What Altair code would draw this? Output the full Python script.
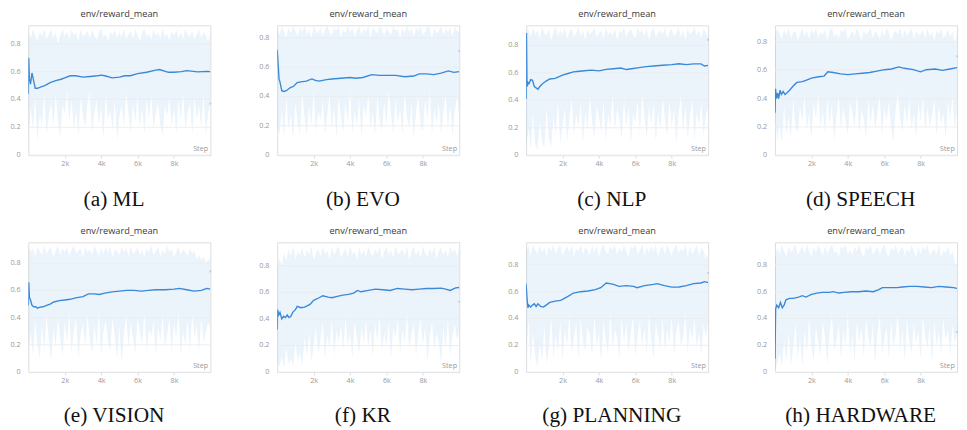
import altair as alt
import pandas as pd

# ---------------- data ----------------
captions = ["(a) ML", "(b) EVO", "(c) NLP", "(d) SPEECH",
            "(e) VISION", "(f) KR", "(g) PLANNING", "(h) HARDWARE"]
y_max = [0.932, 0.886, 0.946, 0.919, 0.954, 0.978, 0.969, 0.969]
y_ticks = [0, 0.2, 0.4, 0.6, 0.8]
y_tick_labels = ["0", "0.2", "0.4", "0.6", "0.8"]
x_ticks = [2000, 4000, 6000, 8000]
last_step = 9990
last_val = [0.37, 0.71, 0.84, 0.70, 0.74, 0.53, 0.74, 0.30]

band_steps = list(range(0, 10001, 125))

# mean curves (step, value)
ml_steps = [0, 20, 60, 120, 200, 280, 380, 500, 700, 900, 1200, 1500, 1800, 2000, 2300, 2600, 3000, 3400, 3800, 4000, 4200, 4600, 5000, 5300, 5600, 6000, 6500, 7000, 7200, 7700, 8000, 8400, 8700, 9300, 9800, 10000]
ml_mean = [0.44, 0.70, 0.55, 0.51, 0.59, 0.54, 0.48, 0.48, 0.49, 0.50, 0.52, 0.535, 0.545, 0.555, 0.57, 0.57, 0.56, 0.565, 0.57, 0.575, 0.57, 0.555, 0.56, 0.57, 0.57, 0.585, 0.595, 0.61, 0.615, 0.595, 0.595, 0.60, 0.607, 0.598, 0.602, 0.60]

evo_steps = [0, 50, 100, 150, 250, 350, 500, 700, 900, 1100, 1300, 1600, 1900, 2100, 2300, 2700, 3000, 3500, 4000, 4300, 4700, 5200, 5600, 6000, 6500, 7000, 7500, 7800, 8200, 8600, 9000, 9400, 9700, 10000]
evo_mean = [0.72, 0.62, 0.52, 0.50, 0.44, 0.435, 0.44, 0.46, 0.47, 0.495, 0.50, 0.505, 0.52, 0.51, 0.505, 0.515, 0.52, 0.525, 0.53, 0.525, 0.53, 0.55, 0.545, 0.545, 0.545, 0.535, 0.54, 0.555, 0.555, 0.55, 0.56, 0.575, 0.565, 0.57]

nlp_steps = [0, 20, 50, 100, 150, 250, 350, 450, 550, 650, 750, 900, 1100, 1300, 1600, 2000, 2300, 2600, 2800, 3200, 3600, 4000, 4400, 4800, 5200, 5500, 5800, 6200, 6600, 7000, 7500, 8000, 8400, 8800, 9200, 9600, 9800, 10000]
nlp_mean = [0.41, 0.89, 0.50, 0.53, 0.52, 0.55, 0.545, 0.50, 0.49, 0.48, 0.50, 0.52, 0.54, 0.555, 0.56, 0.584, 0.595, 0.607, 0.61, 0.615, 0.62, 0.614, 0.625, 0.63, 0.635, 0.624, 0.63, 0.638, 0.645, 0.65, 0.655, 0.66, 0.666, 0.66, 0.665, 0.665, 0.65, 0.654]

sp_steps = [0, 30, 80, 150, 200, 280, 350, 450, 550, 650, 800, 1000, 1200, 1500, 1700, 2000, 2400, 2700, 2900, 3200, 3600, 4000, 4400, 4800, 5200, 5600, 6000, 6400, 6800, 7100, 7600, 8000, 8300, 8800, 9200, 9600, 10000]
sp_mean = [0.30, 0.47, 0.40, 0.44, 0.40, 0.46, 0.43, 0.45, 0.43, 0.44, 0.46, 0.49, 0.515, 0.52, 0.53, 0.545, 0.555, 0.56, 0.59, 0.585, 0.575, 0.57, 0.575, 0.58, 0.585, 0.595, 0.605, 0.61, 0.625, 0.615, 0.605, 0.59, 0.605, 0.61, 0.60, 0.61, 0.62]

vis_steps = [0, 20, 60, 120, 200, 300, 400, 500, 600, 800, 1000, 1200, 1400, 1700, 2000, 2300, 2600, 3000, 3300, 3600, 3900, 4200, 4600, 5000, 5400, 5800, 6200, 6600, 7000, 7500, 8000, 8300, 8700, 9100, 9500, 9800, 10000]
vis_mean = [0.49, 0.66, 0.55, 0.53, 0.49, 0.48, 0.48, 0.47, 0.475, 0.48, 0.49, 0.50, 0.515, 0.525, 0.53, 0.535, 0.545, 0.555, 0.575, 0.575, 0.57, 0.58, 0.59, 0.595, 0.60, 0.60, 0.595, 0.60, 0.605, 0.605, 0.61, 0.615, 0.605, 0.595, 0.60, 0.615, 0.61]

kr_steps = [0, 20, 80, 150, 250, 350, 450, 550, 650, 750, 850, 1000, 1100, 1300, 1500, 1800, 2000, 2300, 2500, 2800, 3000, 3300, 3600, 3900, 4200, 4400, 4600, 5000, 5400, 5800, 6200, 6600, 7000, 7400, 7800, 8200, 8600, 9000, 9300, 9500, 9800, 10000]
kr_mean = [0.32, 0.47, 0.43, 0.45, 0.40, 0.42, 0.41, 0.43, 0.41, 0.42, 0.45, 0.47, 0.495, 0.485, 0.49, 0.51, 0.54, 0.56, 0.575, 0.565, 0.56, 0.57, 0.58, 0.585, 0.595, 0.615, 0.605, 0.615, 0.625, 0.62, 0.615, 0.63, 0.625, 0.62, 0.625, 0.63, 0.63, 0.633, 0.623, 0.615, 0.635, 0.637]

pl_steps = [0, 50, 100, 150, 250, 350, 450, 550, 650, 800, 950, 1100, 1300, 1600, 1900, 2100, 2300, 2600, 3000, 3400, 3800, 4100, 4400, 4600, 4800, 5100, 5500, 5900, 6100, 6500, 7000, 7200, 7600, 8000, 8400, 8800, 9200, 9600, 9800, 10000]
pl_mean = [0.66, 0.55, 0.48, 0.50, 0.485, 0.50, 0.51, 0.49, 0.51, 0.49, 0.485, 0.50, 0.52, 0.53, 0.535, 0.55, 0.565, 0.59, 0.60, 0.605, 0.615, 0.63, 0.665, 0.66, 0.655, 0.64, 0.645, 0.64, 0.63, 0.645, 0.655, 0.66, 0.645, 0.634, 0.635, 0.645, 0.66, 0.665, 0.675, 0.668]

hw_steps = [0, 35, 100, 200, 300, 400, 500, 600, 800, 1000, 1300, 1500, 1700, 2000, 2300, 2600, 3000, 3200, 3500, 3800, 4200, 4600, 5000, 5400, 5700, 5900, 6300, 6700, 7000, 7400, 7800, 8200, 8600, 9000, 9400, 9800, 10000]
hw_mean = [0.10, 0.47, 0.50, 0.48, 0.52, 0.48, 0.50, 0.54, 0.55, 0.55, 0.56, 0.57, 0.56, 0.58, 0.59, 0.595, 0.595, 0.60, 0.59, 0.595, 0.60, 0.60, 0.605, 0.60, 0.615, 0.63, 0.63, 0.63, 0.635, 0.64, 0.64, 0.635, 0.63, 0.64, 0.635, 0.63, 0.625]

# min / max band (every 125 steps)
ml_lo = [0.12, 0.35, 0.18, 0.42, 0.10, 0.30, 0.22, 0.45, 0.15, 0.28,
         0.38, 0.20, 0.44, 0.26, 0.12, 0.36, 0.30, 0.46, 0.24, 0.40,
         0.18, 0.33, 0.14, 0.42, 0.28, 0.20, 0.38, 0.45, 0.16, 0.30,
         0.40, 0.22, 0.35, 0.12, 0.44, 0.26, 0.32, 0.18, 0.40, 0.10,
         0.28, 0.36, 0.20, 0.45, 0.30, 0.16, 0.38, 0.24, 0.42, 0.20,
         0.34, 0.15, 0.40, 0.26, 0.44, 0.18, 0.30, 0.38, 0.22, 0.14,
         0.36, 0.28, 0.42, 0.20, 0.34, 0.16, 0.40, 0.25, 0.45, 0.18,
         0.30, 0.38, 0.14, 0.42, 0.26, 0.35, 0.20, 0.44, 0.15, 0.30, 0.38]
ml_hi = [0.88, 0.84, 0.90, 0.86, 0.82, 0.89, 0.85, 0.91, 0.83, 0.87,
         0.90, 0.84, 0.88, 0.80, 0.86, 0.91, 0.85, 0.89, 0.83, 0.90,
         0.86, 0.88, 0.82, 0.91, 0.85, 0.87, 0.89, 0.84, 0.90, 0.86,
         0.83, 0.88, 0.91, 0.85, 0.87, 0.82, 0.89, 0.86, 0.90, 0.84,
         0.88, 0.85, 0.91, 0.83, 0.87, 0.89, 0.84, 0.90, 0.86, 0.82,
         0.88, 0.91, 0.85, 0.87, 0.83, 0.90, 0.86, 0.88, 0.84, 0.91,
         0.85, 0.87, 0.82, 0.89, 0.86, 0.90, 0.84, 0.88, 0.83, 0.91,
         0.86, 0.85, 0.89, 0.83, 0.87, 0.90, 0.84, 0.88, 0.86, 0.81, 0.88]
evo_lo = [0.20, 0.14, 0.32, 0.12, 0.40, 0.18, 0.28, 0.11, 0.36, 0.22,
          0.15, 0.42, 0.26, 0.13, 0.34, 0.20, 0.44, 0.16, 0.30, 0.24,
          0.38, 0.14, 0.28, 0.42, 0.18, 0.33, 0.12, 0.40, 0.25, 0.16,
          0.36, 0.22, 0.45, 0.15, 0.30, 0.20, 0.38, 0.13, 0.34, 0.26,
          0.42, 0.18, 0.30, 0.14, 0.40, 0.24, 0.16, 0.36, 0.20, 0.44,
          0.28, 0.15, 0.38, 0.22, 0.32, 0.14, 0.42, 0.26, 0.18, 0.35,
          0.12, 0.30, 0.40, 0.20, 0.16, 0.38, 0.24, 0.44, 0.14, 0.32,
          0.22, 0.36, 0.15, 0.28, 0.42, 0.18, 0.34, 0.13, 0.30, 0.40, 0.26]
evo_hi = [0.86, 0.82, 0.88, 0.84, 0.80, 0.87, 0.83, 0.88, 0.85, 0.81,
          0.87, 0.84, 0.88, 0.82, 0.86, 0.80, 0.88, 0.85, 0.83, 0.87,
          0.81, 0.86, 0.88, 0.84, 0.82, 0.87, 0.85, 0.88, 0.80, 0.86,
          0.83, 0.88, 0.84, 0.87, 0.81, 0.85, 0.88, 0.82, 0.86, 0.84,
          0.88, 0.80, 0.87, 0.85, 0.83, 0.88, 0.86, 0.81, 0.87, 0.84,
          0.82, 0.88, 0.85, 0.86, 0.80, 0.87, 0.83, 0.88, 0.84, 0.86,
          0.81, 0.87, 0.85, 0.88, 0.82, 0.84, 0.88, 0.86, 0.80, 0.87,
          0.83, 0.85, 0.88, 0.82, 0.86, 0.84, 0.87, 0.81, 0.88, 0.85, 0.84]
nlp_lo = [0.06, 0.20, 0.05, 0.30, 0.08, 0.04, 0.25, 0.10, 0.05, 0.35,
          0.12, 0.06, 0.28, 0.15, 0.40, 0.08, 0.22, 0.34, 0.10, 0.26,
          0.42, 0.14, 0.30, 0.20, 0.38, 0.09, 0.32, 0.18, 0.44, 0.24,
          0.12, 0.36, 0.28, 0.16, 0.40, 0.10, 0.30, 0.22, 0.45, 0.18,
          0.34, 0.26, 0.12, 0.42, 0.20, 0.36, 0.08, 0.30, 0.24, 0.40,
          0.16, 0.44, 0.28, 0.12, 0.36, 0.22, 0.38, 0.10, 0.32, 0.18,
          0.42, 0.26, 0.14, 0.40, 0.20, 0.34, 0.08, 0.30, 0.44, 0.16,
          0.36, 0.12, 0.28, 0.40, 0.10, 0.32, 0.22, 0.38, 0.14, 0.30, 0.34]
nlp_hi = [0.89, 0.92, 0.86, 0.93, 0.88, 0.91, 0.85, 0.93, 0.89, 0.87,
          0.92, 0.84, 0.90, 0.93, 0.87, 0.91, 0.88, 0.93, 0.85, 0.90,
          0.92, 0.86, 0.89, 0.93, 0.87, 0.91, 0.84, 0.92, 0.88, 0.90,
          0.93, 0.86, 0.89, 0.91, 0.85, 0.93, 0.88, 0.90, 0.87, 0.92,
          0.84, 0.91, 0.89, 0.93, 0.86, 0.90, 0.92, 0.88, 0.85, 0.93,
          0.89, 0.91, 0.87, 0.92, 0.84, 0.90, 0.93, 0.86, 0.89, 0.91,
          0.88, 0.93, 0.85, 0.90, 0.92, 0.87, 0.89, 0.93, 0.86, 0.91,
          0.84, 0.92, 0.88, 0.90, 0.93, 0.87, 0.91, 0.85, 0.92, 0.89, 0.86]
sp_lo = [0.30, 0.10, 0.22, 0.08, 0.35, 0.15, 0.28, 0.12, 0.40, 0.20,
         0.16, 0.34, 0.24, 0.42, 0.18, 0.30, 0.12, 0.38, 0.26, 0.44,
         0.20, 0.32, 0.15, 0.40, 0.22, 0.36, 0.10, 0.28, 0.42, 0.18,
         0.34, 0.24, 0.14, 0.38, 0.30, 0.20, 0.44, 0.16, 0.32, 0.26,
         0.12, 0.40, 0.22, 0.36, 0.18, 0.30, 0.42, 0.14, 0.34, 0.24,
         0.38, 0.20, 0.10, 0.32, 0.44, 0.26, 0.16, 0.36, 0.22, 0.40,
         0.18, 0.30, 0.12, 0.38, 0.24, 0.42, 0.16, 0.34, 0.20, 0.28,
         0.40, 0.14, 0.36, 0.22, 0.30, 0.11, 0.38, 0.26, 0.42, 0.18, 0.32]
sp_hi = [0.84, 0.90, 0.86, 0.82, 0.89, 0.85, 0.90, 0.83, 0.87, 0.88,
         0.81, 0.86, 0.90, 0.84, 0.88, 0.82, 0.89, 0.86, 0.90, 0.83,
         0.87, 0.85, 0.89, 0.81, 0.88, 0.90, 0.84, 0.86, 0.83, 0.89,
         0.87, 0.90, 0.82, 0.85, 0.88, 0.84, 0.90, 0.86, 0.81, 0.89,
         0.85, 0.87, 0.90, 0.83, 0.88, 0.86, 0.82, 0.89, 0.84, 0.90,
         0.87, 0.81, 0.86, 0.88, 0.85, 0.90, 0.83, 0.89, 0.84, 0.87,
         0.90, 0.82, 0.88, 0.85, 0.86, 0.89, 0.83, 0.90, 0.84, 0.87,
         0.81, 0.88, 0.86, 0.90, 0.83, 0.85, 0.89, 0.84, 0.87, 0.80, 0.86]
vis_lo = [0.14, 0.30, 0.12, 0.38, 0.20, 0.10, 0.34, 0.16, 0.42, 0.24,
          0.08, 0.32, 0.18, 0.40, 0.26, 0.12, 0.36, 0.22, 0.44, 0.15,
          0.30, 0.40, 0.10, 0.28, 0.36, 0.18, 0.42, 0.24, 0.14, 0.34,
          0.20, 0.44, 0.12, 0.30, 0.38, 0.22, 0.16, 0.40, 0.26, 0.10,
          0.34, 0.06, 0.28, 0.42, 0.18, 0.36, 0.24, 0.14, 0.40, 0.30,
          0.20, 0.44, 0.16, 0.32, 0.26, 0.38, 0.12, 0.34, 0.22, 0.42,
          0.18, 0.28, 0.40, 0.14, 0.36, 0.24, 0.44, 0.12, 0.30, 0.20,
          0.38, 0.16, 0.42, 0.26, 0.34, 0.14, 0.40, 0.22, 0.30, 0.36, 0.32]
vis_hi = [0.93, 0.88, 0.91, 0.85, 0.92, 0.89, 0.86, 0.93, 0.87, 0.90,
          0.92, 0.84, 0.89, 0.93, 0.86, 0.91, 0.88, 0.92, 0.85, 0.90,
          0.93, 0.87, 0.89, 0.91, 0.84, 0.92, 0.88, 0.90, 0.86, 0.93,
          0.89, 0.85, 0.91, 0.87, 0.92, 0.88, 0.93, 0.84, 0.90, 0.89,
          0.86, 0.92, 0.88, 0.91, 0.85, 0.93, 0.87, 0.89, 0.92, 0.86,
          0.90, 0.84, 0.91, 0.88, 0.93, 0.86, 0.89, 0.92, 0.85, 0.90,
          0.87, 0.93, 0.88, 0.91, 0.84, 0.89, 0.92, 0.86, 0.90, 0.88,
          0.85, 0.91, 0.87, 0.89, 0.83, 0.86, 0.82, 0.85, 0.80, 0.83, 0.82]
kr_lo = [0.08, 0.04, 0.12, 0.03, 0.18, 0.06, 0.10, 0.04, 0.22, 0.08,
         0.15, 0.05, 0.26, 0.12, 0.30, 0.08, 0.20, 0.34, 0.14, 0.24,
         0.38, 0.10, 0.28, 0.18, 0.40, 0.12, 0.32, 0.22, 0.36, 0.16,
         0.42, 0.20, 0.30, 0.10, 0.38, 0.26, 0.14, 0.34, 0.22, 0.40,
         0.18, 0.32, 0.12, 0.36, 0.24, 0.42, 0.16, 0.30, 0.20, 0.38,
         0.10, 0.34, 0.26, 0.40, 0.14, 0.32, 0.22, 0.44, 0.18, 0.28,
         0.36, 0.12, 0.30, 0.40, 0.20, 0.34, 0.08, 0.26, 0.38, 0.16,
         0.30, 0.22, 0.06, 0.34, 0.18, 0.40, 0.12, 0.28, 0.36, 0.24, 0.30]
kr_hi = [0.78, 0.86, 0.80, 0.90, 0.84, 0.93, 0.87, 0.95, 0.85, 0.91,
         0.88, 0.94, 0.86, 0.92, 0.89, 0.95, 0.84, 0.90, 0.93, 0.87,
         0.95, 0.89, 0.91, 0.85, 0.94, 0.88, 0.92, 0.95, 0.86, 0.90,
         0.93, 0.87, 0.95, 0.89, 0.91, 0.84, 0.94, 0.88, 0.92, 0.86,
         0.95, 0.90, 0.87, 0.93, 0.89, 0.95, 0.85, 0.91, 0.94, 0.88,
         0.92, 0.86, 0.95, 0.89, 0.90, 0.93, 0.87, 0.95, 0.84, 0.91,
         0.94, 0.88, 0.92, 0.86, 0.95, 0.90, 0.87, 0.93, 0.89, 0.95,
         0.85, 0.91, 0.94, 0.88, 0.92, 0.86, 0.95, 0.90, 0.93, 0.87, 0.94]
pl_lo = [0.10, 0.40, 0.05, 0.30, 0.12, 0.04, 0.22, 0.08, 0.35, 0.06,
         0.18, 0.42, 0.10, 0.28, 0.15, 0.38, 0.08, 0.32, 0.20, 0.44,
         0.14, 0.26, 0.36, 0.10, 0.40, 0.22, 0.16, 0.34, 0.28, 0.12,
         0.42, 0.20, 0.30, 0.08, 0.38, 0.24, 0.14, 0.44, 0.18, 0.32,
         0.26, 0.10, 0.40, 0.22, 0.36, 0.15, 0.30, 0.42, 0.12, 0.28,
         0.38, 0.20, 0.34, 0.14, 0.44, 0.24, 0.10, 0.36, 0.28, 0.18,
         0.40, 0.16, 0.32, 0.22, 0.42, 0.12, 0.30, 0.38, 0.20, 0.26,
         0.44, 0.14, 0.34, 0.24, 0.40, 0.18, 0.30, 0.12, 0.36, 0.26, 0.38]
pl_hi = [0.90, 0.94, 0.87, 0.95, 0.91, 0.88, 0.95, 0.89, 0.93, 0.86,
         0.94, 0.90, 0.95, 0.88, 0.92, 0.95, 0.87, 0.91, 0.94, 0.89,
         0.95, 0.86, 0.92, 0.90, 0.95, 0.88, 0.93, 0.91, 0.87, 0.95,
         0.89, 0.94, 0.86, 0.92, 0.95, 0.90, 0.88, 0.94, 0.91, 0.95,
         0.87, 0.93, 0.89, 0.95, 0.90, 0.86, 0.94, 0.92, 0.95, 0.88,
         0.91, 0.95, 0.87, 0.93, 0.89, 0.94, 0.90, 0.95, 0.86, 0.92,
         0.94, 0.88, 0.95, 0.91, 0.87, 0.93, 0.95, 0.89, 0.92, 0.90,
         0.95, 0.86, 0.94, 0.88, 0.91, 0.95, 0.87, 0.93, 0.90, 0.85, 0.88]
hw_lo = [0.02, 0.06, 0.14, 0.04, 0.24, 0.08, 0.30, 0.05, 0.18, 0.36,
         0.10, 0.26, 0.04, 0.32, 0.14, 0.40, 0.20, 0.08, 0.34, 0.22,
         0.12, 0.38, 0.26, 0.06, 0.30, 0.42, 0.16, 0.24, 0.36, 0.10,
         0.32, 0.20, 0.44, 0.14, 0.28, 0.08, 0.38, 0.22, 0.34, 0.12,
         0.40, 0.26, 0.18, 0.36, 0.06, 0.30, 0.42, 0.14, 0.24, 0.34,
         0.10, 0.38, 0.20, 0.28, 0.44, 0.16, 0.32, 0.08, 0.40, 0.24,
         0.14, 0.36, 0.22, 0.30, 0.10, 0.42, 0.26, 0.18, 0.34, 0.06,
         0.38, 0.20, 0.30, 0.14, 0.40, 0.24, 0.32, 0.12, 0.36, 0.22, 0.28]
hw_hi = [0.85, 0.93, 0.88, 0.95, 0.90, 0.86, 0.94, 0.89, 0.92, 0.95,
         0.87, 0.91, 0.94, 0.88, 0.95, 0.90, 0.86, 0.93, 0.89, 0.95,
         0.91, 0.87, 0.94, 0.88, 0.92, 0.95, 0.89, 0.90, 0.86, 0.94,
         0.92, 0.95, 0.88, 0.91, 0.87, 0.94, 0.90, 0.95, 0.89, 0.86,
         0.93, 0.91, 0.95, 0.88, 0.90, 0.94, 0.87, 0.92, 0.95, 0.89,
         0.86, 0.93, 0.90, 0.95, 0.88, 0.91, 0.94, 0.87, 0.92, 0.89,
         0.95, 0.90, 0.86, 0.93, 0.88, 0.94, 0.91, 0.95, 0.87, 0.90,
         0.92, 0.88, 0.95, 0.86, 0.91, 0.89, 0.94, 0.87, 0.90, 0.82, 0.80]

series = [
    (ml_steps, ml_mean, ml_lo, ml_hi),
    (evo_steps, evo_mean, evo_lo, evo_hi),
    (nlp_steps, nlp_mean, nlp_lo, nlp_hi),
    (sp_steps, sp_mean, sp_lo, sp_hi),
    (vis_steps, vis_mean, vis_lo, vis_hi),
    (kr_steps, kr_mean, kr_lo, kr_hi),
    (pl_steps, pl_mean, pl_lo, pl_hi),
    (hw_steps, hw_mean, hw_lo, hw_hi),
]

# ---------------- styling ----------------
BLUE = "#3a89d8"
SANS = "Open Sans"
SERIF = "Liberation Serif"
GREY = "#9a9a9a"
PW, PH = 188, 134


def panel(cap, ymax, last, cap_pad, steps, mean, lo, hi):
    band = pd.DataFrame([{"step": s, "lo": a, "hi": b} for s, a, b in zip(band_steps, lo, hi)])
    line = pd.DataFrame({"step": steps, "v": mean})
    end = pd.DataFrame({"step": [last_step], "v": [last], "t": ["Step"], "xs": [9880], "y0": [0]})
    ticks_df = pd.DataFrame({"v": y_ticks, "lbl": y_tick_labels,
                             "x0": [0] * len(y_ticks), "x1": [10000] * len(y_ticks)})
    xs = alt.Scale(domain=[0, 10000], nice=False, zero=False)
    ys = alt.Scale(domain=[0, ymax], nice=False)
    xaxis = alt.Axis(values=x_ticks, format="~s", title=cap, grid=False,
                     labelFont=SANS, labelFontSize=7.5, labelColor=GREY,
                     labelPadding=2, tickSize=3, tickColor="#dddddd",
                     domainColor="#dddddd", titleFont=SERIF, titleFontSize=22,
                     titleFontWeight="normal", titleColor="#111111",
                     titlePadding=cap_pad, titleX=88, titleAlign="center")

    def X(f):
        return alt.X(f, scale=xs, axis=xaxis)

    def Y(f):
        return alt.Y(f, scale=ys, axis=None)

    area = alt.Chart(band).mark_area(color=BLUE, opacity=0.10, clip=True).encode(
        x=X("step:Q"), y=Y("lo:Q"), y2="hi:Q")
    grid = alt.Chart(ticks_df).mark_rule(color="#eaedf1", strokeWidth=1).encode(
        x=X("x0:Q"), x2="x1:Q", y=Y("v:Q"))
    ylab = alt.Chart(ticks_df).mark_text(font=SANS, fontSize=7.5, color=GREY,
                                         align="right", baseline="middle",
                                         dx=-8).encode(
        x=X("x0:Q"), y=Y("v:Q"), text="lbl:N")
    ln = alt.Chart(line).mark_line(color=BLUE, strokeWidth=1.4, clip=True).encode(
        x=X("step:Q"), y=Y("v:Q"))
    dot = alt.Chart(end).mark_circle(color=BLUE, opacity=0.25, size=5).encode(
        x=X("step:Q"), y=Y("v:Q"))
    step_lbl = alt.Chart(end).mark_text(font=SANS, fontSize=7.5, color=GREY,
                                        align="right", baseline="bottom",
                                        dy=-2).encode(
        x=X("xs:Q"), y=Y("y0:Q"), text="t:N")
    return alt.layer(area, grid, ln, dot, step_lbl, ylab).properties(
        width=PW, height=PH,
        title=alt.TitleParams("env/reward_mean", font=SANS, fontSize=9.5,
                              fontWeight="normal", color="#3a3a3a", offset=7,
                              frame="group"))


cap_pads = [23, 23, 23, 23, 22, 22, 22, 22]
panels = [panel(c, m, l, p, *s)
          for c, m, l, p, s in zip(captions, y_max, last_val, cap_pads, series)]
row1 = alt.hconcat(*panels[:4], spacing=47)
row2 = alt.hconcat(*panels[4:], spacing=47)
chart = alt.vconcat(row1, row2, spacing=16).properties(
    padding={"left": 1, "top": -6, "right": 0, "bottom": 0}
).configure_view(stroke=None).configure(background="white")

chart.save("out.html", embed_options={"renderer": "svg", "actions": False})
